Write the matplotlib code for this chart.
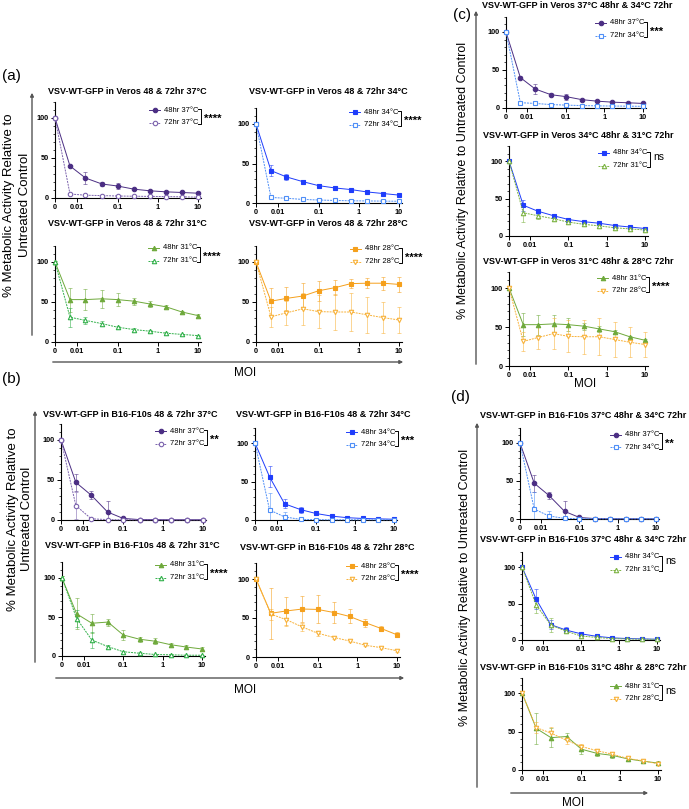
import numpy as np
import matplotlib.pyplot as plt
from matplotlib.lines import Line2D
from matplotlib.patches import FancyArrowPatch
from matplotlib.ticker import FixedLocator, MultipleLocator, LogLocator, NullFormatter

plt.rcParams['font.family'] = ['Liberation Sans', 'DejaVu Sans']

# MOI dilution series (0 = untreated, shown at the left end of the log axis)
moi = [0, 0.0066, 0.016, 0.041, 0.1, 0.26, 0.64, 1.6, 4, 10]

# Veros
vero_37_48 = [100, 40, 25, 17.5, 15, 11, 9, 7.7, 6.9, 6]
vero_37_48_err = [1, 1.5, 7, 2, 4, 1.5, 1, 1, 1, 1]
vero_37_72 = [100, 5, 3.5, 3, 2.5, 2.2, 2, 1.8, 1.5, 1]
vero_37_72_err = [1, 1, 1, 0.8, 0.8, 0.6, 0.6, 0.6, 0.6, 0.6]
vero_34_48 = [100, 41, 33, 27, 22, 19, 17, 14, 12, 10]
vero_34_48_err = [1, 7, 3.5, 2, 1.5, 1.2, 1.2, 1, 1, 1]
vero_34_72 = [100, 7, 6, 4.5, 3.8, 3.2, 2.8, 2.6, 2.4, 2.2]
vero_34_72_err = [1, 1.2, 1, 0.8, 0.8, 0.7, 0.7, 0.6, 0.6, 0.6]
vero_31_48 = [100, 53, 53, 54, 53, 51, 47.5, 44, 37.5, 33]
vero_31_48_err = [1.5, 15, 13, 11, 8, 4.5, 3.5, 2, 1.5, 1.5]
vero_31_72 = [100, 31, 27, 23, 18.5, 15.5, 13.5, 11, 9.5, 8]
vero_31_72_err = [1.5, 12, 4, 3, 2, 1.5, 1.5, 1.2, 1, 1]
vero_28_48 = [100, 51, 54.5, 57.5, 64, 68, 73, 73.5, 73.5, 72]
vero_28_48_err = [2, 17, 14, 16, 12.5, 9, 6, 6, 8, 9]
vero_28_72 = [100, 31.5, 36.5, 41.5, 38, 37.5, 37.5, 34, 30.5, 27.5]
vero_28_72_err = [2, 12.5, 15, 20, 20.5, 22, 24, 22.5, 19, 16]

# B16-F10s
b16_37_48 = [100, 47, 31, 10, 2, 0.5, 0.4, 0.3, 0.3, 0.3]
b16_37_48_err = [1, 11, 5, 14, 1.5, 0.5, 0.3, 0.3, 0.3, 0.3]
b16_37_72 = [100, 18, 1.5, 0.5, 0.3, 0.2, 0.2, 0.2, 0.2, 0.2]
b16_37_72_err = [1, 17, 1, 0.5, 0.3, 0.2, 0.2, 0.2, 0.2, 0.2]
b16_34_48 = [100, 56, 21, 13.5, 8.5, 5, 3, 2, 1.5, 1]
b16_34_48_err = [1.5, 13.5, 6, 4, 2, 1.5, 1, 0.8, 0.6, 0.5]
b16_34_72 = [100, 13, 4, 0.8, 0.5, 0.3, 0.3, 0.3, 0.3, 0.3]
b16_34_72_err = [1.5, 22, 7, 1, 0.5, 0.3, 0.3, 0.3, 0.3, 0.3]
b16_31_48 = [100, 54, 42, 43.5, 27, 21.5, 19, 14.5, 11.5, 9]
b16_31_48_err = [2, 20, 12, 4.5, 6, 3.5, 4, 2.5, 3, 3]
b16_31_72 = [100, 48, 20.5, 12, 5.5, 3.5, 2, 1.5, 1, 1]
b16_31_72_err = [2, 11, 10, 2, 1.5, 1, 0.8, 0.5, 0.5, 0.5]
b16_28_48 = [100, 56, 59, 61.5, 61, 57, 52, 44, 36.5, 28.5]
b16_28_48_err = [2, 33, 18, 16.5, 18, 13, 9, 5, 3, 3]
b16_28_72 = [100, 55, 48, 38.5, 30.5, 25, 20.5, 15, 12, 8]
b16_28_72_err = [2, 7, 8, 5, 3, 2, 1.5, 1.5, 1.2, 1]

styles = {
    '48hr 37°C': ('#4b2e83', 'o', True),
    '72hr 37°C': ('#7b62ad', 'o', False),
    '48hr 34°C': ('#1f3dfb', 's', True),
    '72hr 34°C': ('#4f8ff7', 's', False),
    '48hr 31°C': ('#6ea93b', '^', True),
    '72hr 31°C': ('#31b04a', '^', False),
    '48hr 28°C': ('#f5a01c', 's', True),
    '72hr 28°C': ('#f8b23a', 'v', False),
}
olive = '#7cb342'

W, H = 689, 809
ZERO = 0.0028
XMAX = 12
YMAX = 120


def fx(px):
    return px / W


def fy(py):
    return 1 - py / H


fig = plt.figure(figsize=(W / 100, H / 100), dpi=100)


def style_of(label, color=None):
    c, m, filled = styles[label]
    if color:
        c = color
    ls = '-' if label.startswith('48') else (0, (2, 1))
    return c, m, filled, ls


def panel(geom, title, tpos, lpos, stars, series):
    x0, x10, y100, y0 = geom
    dec = (x10 - x0) / (1 - np.log10(ZERO))
    right = x10 + dec * (np.log10(XMAX) - 1)
    top = y0 - (y0 - y100) * YMAX / 100
    ax = fig.add_axes([fx(x0), fy(y0), (right - x0) / W, (y0 - top) / H])
    ax.set_xscale('log')
    ax.set_xlim(ZERO, XMAX)
    ax.set_ylim(0, YMAX)
    ax.xaxis.set_major_locator(FixedLocator([ZERO, 0.01, 0.1, 1, 10]))
    ax.set_xticklabels(['0', '0.01', '0.1', '1', '10'])
    ax.xaxis.set_minor_locator(LogLocator(base=10, subs=np.arange(2, 10)))
    ax.xaxis.set_minor_formatter(NullFormatter())
    ax.set_yticks([0, 50, 100])
    ax.yaxis.set_minor_locator(MultipleLocator(10))
    for s in ['top', 'right']:
        ax.spines[s].set_visible(False)
    for s in ['left', 'bottom']:
        ax.spines[s].set_linewidth(0.8)
    ax.tick_params(which='major', length=3, width=0.7, pad=1.5)
    ax.tick_params(which='minor', length=1.6, width=0.5)
    for lab in ax.get_xticklabels() + ax.get_yticklabels():
        lab.set_fontsize(5.3)
        lab.set_fontweight('bold')

    xs = [ZERO if m == 0 else m for m in moi]
    for label, y, e, color in series:
        c, m, filled, ls = style_of(label, color)
        ax.errorbar(xs, y, yerr=e, fmt='none', ecolor=c, alpha=0.55,
                    elinewidth=0.7, capsize=1.6, capthick=0.7)
        ax.plot(xs, y, color=c, ls=ls, lw=0.7, marker=m, ms=3.2,
                mfc=c if filled else 'white', mec=c, mew=0.8, clip_on=False,
                zorder=3)

    fig.text(fx(tpos[0]), fy(tpos[1]), title, ha='center', va='center',
             fontsize=6.5, fontweight='bold')

    lx, ly = lpos
    for i, (label, y, e, color) in enumerate(series):
        c, m, filled, ls = style_of(label, color)
        yy = ly + 12.5 * i
        fig.add_artist(Line2D([fx(lx), fx(lx + 11)], [fy(yy), fy(yy)],
                              color=c, lw=0.7, ls=ls))
        fig.add_artist(Line2D([fx(lx + 5.5)], [fy(yy)], marker=m, ms=3.2,
                              color=c, mfc=c if filled else 'white', mec=c,
                              mew=0.8))
        fig.text(fx(lx + 15), fy(yy), label, ha='left', va='center',
                 fontsize=5.5)
    bx = lx + 52
    fig.add_artist(Line2D([fx(bx - 3), fx(bx), fx(bx), fx(bx - 3)],
                          [fy(ly - 1.5), fy(ly - 1.5), fy(ly + 14), fy(ly + 14)],
                          color='black', lw=0.7))
    if stars == 'ns':
        fig.text(fx(bx + 3), fy(ly + 4.5), stars, ha='left', va='center',
                 fontsize=7.5)
    else:
        fig.text(fx(bx + 3), fy(ly + 9), stars, ha='left', va='center',
                 fontsize=8, fontweight='bold')
    return ax


# (a) Veros
panel((55, 198, 118, 198), 'VSV-WT-GFP in Veros 48 & 72hr 37°C', (127, 92),
      (149, 110), '****',
      [('48hr 37°C', vero_37_48, vero_37_48_err, None),
       ('72hr 37°C', vero_37_72, vero_37_72_err, None)])
panel((256, 399, 124, 203), 'VSV-WT-GFP in Veros 48 & 72hr 34°C', (328, 92),
      (349, 112), '****',
      [('48hr 34°C', vero_34_48, vero_34_48_err, None),
       ('72hr 34°C', vero_34_72, vero_34_72_err, None)])
panel((55, 198, 262, 342), 'VSV-WT-GFP in Veros 48 & 72hr 31°C', (127, 224),
      (148, 248), '****',
      [('48hr 31°C', vero_31_48, vero_31_48_err, None),
       ('72hr 31°C', vero_31_72, vero_31_72_err, None)])
panel((256, 399, 262, 342), 'VSV-WT-GFP in Veros 48 & 72hr 28°C', (328, 224),
      (350, 249), '****',
      [('48hr 28°C', vero_28_48, vero_28_48_err, None),
       ('72hr 28°C', vero_28_72, vero_28_72_err, None)])

# (b) B16-F10s
panel((61, 203, 440, 520), 'VSV-WT-GFP in B16-F10s 48 & 72hr 37°C', (130, 415),
      (155, 431), '**',
      [('48hr 37°C', b16_37_48, b16_37_48_err, None),
       ('72hr 37°C', b16_37_72, b16_37_72_err, None)])
panel((255, 394, 443, 520), 'VSV-WT-GFP in B16-F10s 48 & 72hr 34°C', (323, 415),
      (346, 432), '***',
      [('48hr 34°C', b16_34_48, b16_34_48_err, None),
       ('72hr 34°C', b16_34_72, b16_34_72_err, None)])
panel((62, 202, 578, 656), 'VSV-WT-GFP in B16-F10s 48 & 72hr 31°C', (132, 545),
      (155, 565), '****',
      [('48hr 31°C', b16_31_48, b16_31_48_err, None),
       ('72hr 31°C', b16_31_72, b16_31_72_err, None)])
panel((256, 397, 579, 657), 'VSV-WT-GFP in B16-F10s 48 & 72hr 28°C', (327, 547),
      (346, 566), '****',
      [('48hr 28°C', b16_28_48, b16_28_48_err, None),
       ('72hr 28°C', b16_28_72, b16_28_72_err, None)])

# (c) Veros, mixed temperatures
panel((506, 643, 32, 108), 'VSV-WT-GFP in Veros 37°C 48hr & 34°C 72hr', (577, 6),
      (595, 23), '***',
      [('48hr 37°C', vero_37_48, vero_37_48_err, None),
       ('72hr 34°C', vero_34_72, vero_34_72_err, None)])
panel((509, 645, 161, 236), 'VSV-WT-GFP in Veros 34°C 48hr & 31°C 72hr', (578, 135),
      (598, 153), 'ns',
      [('48hr 34°C', vero_34_48, vero_34_48_err, None),
       ('72hr 31°C', vero_31_72, vero_31_72_err, olive)])
panel((509, 645, 288, 366), 'VSV-WT-GFP in Veros 31°C 48hr & 28°C 72hr', (578, 262),
      (597, 278), '****',
      [('48hr 31°C', vero_31_48, vero_31_48_err, None),
       ('72hr 28°C', vero_28_72, vero_28_72_err, None)])

# (d) B16-F10s, mixed temperatures
panel((520, 656, 443, 519), 'VSV-WT-GFP in B16-F10s 37°C 48hr & 34°C 72hr', (583, 416),
      (610, 435), '**',
      [('48hr 37°C', b16_37_48, b16_37_48_err, None),
       ('72hr 34°C', b16_34_72, b16_34_72_err, None)])
panel((522, 657, 567, 640), 'VSV-WT-GFP in B16-F10s 37°C 48hr & 34°C 72hr', (583, 540),
      (610, 557), 'ns',
      [('48hr 34°C', b16_34_48, b16_34_48_err, None),
       ('72hr 31°C', b16_31_72, b16_31_72_err, olive)])
panel((522, 658, 693, 770), 'VSV-WT-GFP in B16-F10s 31°C 48hr & 28°C 72hr', (583, 667),
      (610, 686), 'ns',
      [('48hr 31°C', b16_31_48, b16_31_48_err, None),
       ('72hr 28°C', b16_28_72, b16_28_72_err, None)])


# frame arrows, shared axis titles and panel letters
def arrow(x1, y1, x2, y2):
    fig.add_artist(FancyArrowPatch(
        (fx(x1), fy(y1)), (fx(x2), fy(y2)), transform=fig.transFigure,
        arrowstyle='-|>', mutation_scale=5, lw=1, color='#555555'))


arrow(32, 338, 32, 90)
arrow(50, 362, 406, 362)
arrow(35, 665, 35, 408)
arrow(53, 678, 407, 678)
arrow(476, 367, 476, 8)
arrow(477, 790, 477, 420)
arrow(508, 793, 651, 793)

ylab = '% Metabolic Activity Relative to Untreated Control'
ylab2 = '% Metabolic Activity Relative to\nUntreated Control'
fig.text(fx(17), fy(205), ylab2, rotation=90, ha='center', va='center',
         fontsize=9.5, linespacing=1.4)
fig.text(fx(20), fy(519), ylab2, rotation=90, ha='center', va='center',
         fontsize=9.5, linespacing=1.2)
fig.text(fx(463), fy(180), ylab, rotation=90, ha='center', va='center', fontsize=9)
fig.text(fx(465), fy(587), ylab, rotation=90, ha='center', va='center', fontsize=9)

for x, y in [(245, 373), (245, 690), (585, 384), (573, 803)]:
    fig.text(fx(x), fy(y), 'MOI', ha='center', va='center', fontsize=8.5)

for t, x, y in [('(a)', 11, 76), ('(b)', 11, 379), ('(c)', 462, 15), ('(d)', 460, 397)]:
    fig.text(fx(x), fy(y), t, ha='center', va='center', fontsize=11)

fig.savefig('out.png', dpi=100)
